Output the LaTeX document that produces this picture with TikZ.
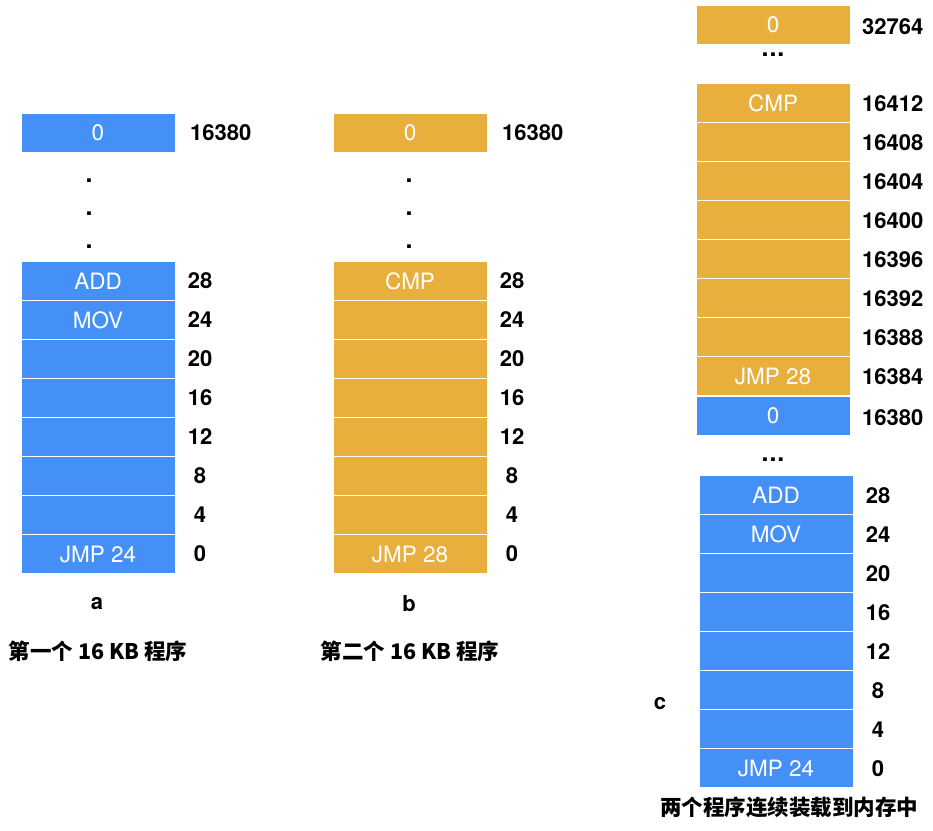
\documentclass[tikz,border=0pt]{standalone}
\usepackage{fontspec}
\setmainfont{TeX Gyre Heros}
\newfontfamily\cjk{Noto Sans CJK SC}
\definecolor{memblue}{HTML}{4590F6}
\definecolor{memorange}{HTML}{E8AF3C}

\begin{document}
\begin{tikzpicture}
[x=1pt, y=-1pt]
\tikzstyle{every node}=[inner sep=0pt]
\tikzstyle{word}=[rectangle, draw=white, line width=0.8pt, minimum width=154pt, minimum height=39pt, text=white, font=\fontsize{22.5}{26}\selectfont]
\tikzstyle{blueword}=[word, fill=memblue]
\tikzstyle{orangeword}=[word, fill=memorange]
\tikzstyle{addr}=[font=\fontsize{22}{26}\selectfont\bfseries]
\tikzstyle{dot}=[font=\fontsize{25}{28}\selectfont\bfseries]
\tikzstyle{caption}=[font=\fontsize{21.5}{25}\selectfont\cjk\bfseries]
\useasboundingbox (0,0) rectangle (933,830);

% a: first program
\node[blueword] (atop) at (98,133) {0};
\node[addr, anchor=west] (latop) at (190,133) {16380};
\node[dot] (ad1) at (89,181) {.};
\node[dot] (ad2) at (89,214) {.};
\node[dot] (ad3) at (89,247) {.};
\foreach \t [count=\i from 0] in {ADD,MOV,{},{},{},{},{},JMP 24} {
  \pgfmathtruncatemacro\addr{28-4*\i}
  \node[blueword] (a\i) at (98,281+39*\i) {\t};
  \node[addr] (la\i) at (200,281+39*\i) {\addr};
}
\node[addr] (alabel) at (97,604) {a};
\node[caption] (acap) at (98,651) {第一个 16 KB 程序};

% b: second program
\node[orangeword] (btop) at (410,133) {0};
\node[addr, anchor=west] (lbtop) at (502,133) {16380};
\node[dot] (bd1) at (409,181) {.};
\node[dot] (bd2) at (409,214) {.};
\node[dot] (bd3) at (409,247) {.};
\foreach \t [count=\i from 0] in {CMP,{},{},{},{},{},{},JMP 28} {
  \pgfmathtruncatemacro\addr{28-4*\i}
  \node[orangeword] (b\i) at (410,281+39*\i) {\t};
  \node[addr] (lb\i) at (512,281+39*\i) {\addr};
}
\node[addr] (blabel) at (409,604) {b};
\node[caption] (bcap) at (410,651) {第二个 16 KB 程序};

% c: both programs loaded
\node[orangeword] (ctop) at (773,25) {0};
\node[addr, anchor=west] (lctop) at (862,27) {32764};
\node[dot] (cd1) at (773,55) {.\hspace{1pt}.\hspace{1pt}.};
\foreach \t [count=\i from 0] in {CMP,{},{},{},{},{},{},JMP 28} {
  \edef\addr{\number\numexpr16412-4*\i\relax}
  \node[orangeword] (c\i) at (773,103+39*\i) {\t};
  \node[addr, anchor=west] (lc\i) at (862,104+39*\i) {\addr};
}
\node[blueword] (cmid) at (773,416) {0};
\node[addr, anchor=west] (lcmid) at (862,418) {16380};
\node[dot] (cd2) at (773,460) {.\hspace{1pt}.\hspace{1pt}.};
\foreach \t [count=\i from 0] in {ADD,MOV,{},{},{},{},{},JMP 24} {
  \pgfmathtruncatemacro\addr{28-4*\i}
  \node[blueword] (d\i) at (776,495+39*\i) {\t};
  \node[addr] (ld\i) at (878,496+39*\i) {\addr};
}
\node[addr] (clabel) at (660,704) {c};
\node[caption] (ccap) at (789,807) {两个程序连续装载到内存中};
\end{tikzpicture}
\end{document}
